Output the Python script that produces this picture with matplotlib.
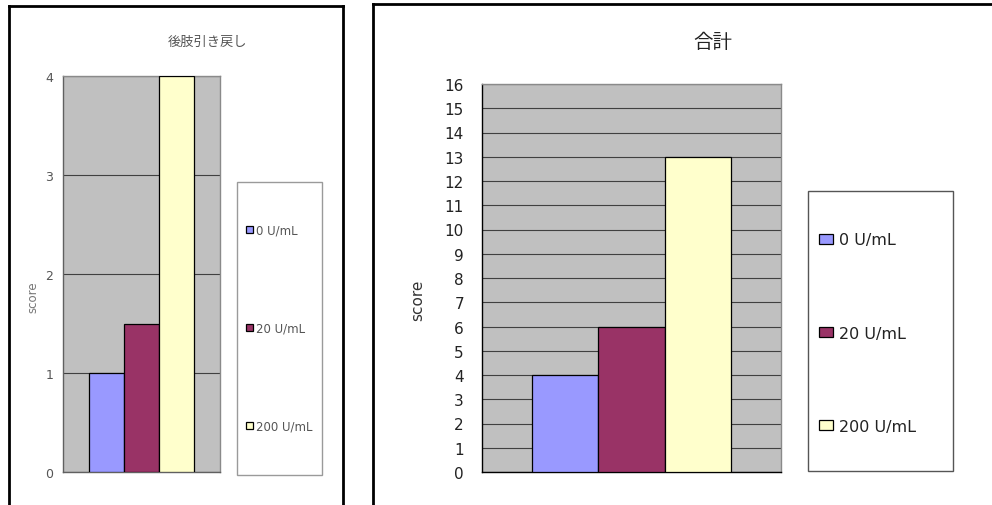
import matplotlib.pyplot as plt
from matplotlib.patches import Rectangle
from matplotlib.lines import Line2D

plt.rcParams['font.family'] = ['DejaVu Sans', 'Noto Sans CJK JP']

# ---------------------------------------------------------------- datos
series = ["0 U/mL", "20 U/mL", "200 U/mL"]
colors = ["#9999FF", "#993366", "#FFFFCC"]

left_title = "後肢引き戻し"
left_scores = [1, 1.5, 4]
left_yticks = [0, 1, 2, 3, 4]

right_title = "合計"
right_scores = [4, 6, 13]
right_yticks = list(range(0, 17))

ylabel = "score"

# tamaño del lienzo en pixeles
W, H = 992, 506


def caja(x0, y0, x1, y1):
    # caja en pixeles (origen arriba-izquierda) -> coordenadas de figura
    return [x0 / W, 1 - y1 / H, (x1 - x0) / W, (y1 - y0) / H]


def fx(x):
    return x / W


def fy(y):
    return 1 - y / H


def panel(fig, rect, scores, yticks, tc, pad, fs, spine_c):
    ax = fig.add_axes(rect)
    ax.set_facecolor("#C0C0C0")
    offs = [-1, 0, 1]
    handles = []
    for o, v, c, s in zip(offs, scores, colors, series):
        b = ax.bar(o, v, width=1, color=c, edgecolor="black",
                   linewidth=0.9, label=s, zorder=3)
        handles.append(b)
    ax.set_xlim(-2.25, 2.25)
    ax.set_ylim(0, yticks[-1])
    ax.set_yticks(yticks)
    ax.set_xticks([])
    ax.yaxis.grid(True, color="#404040", linewidth=0.8)
    ax.set_axisbelow(True)
    ax.tick_params(axis="y", length=0, pad=pad, labelsize=fs, labelcolor=tc)
    for k in ["top", "right"]:
        ax.spines[k].set_color("#8a8a8a")
        ax.spines[k].set_linewidth(1.0)
    for k in ["left", "bottom"]:
        ax.spines[k].set_color(spine_c)
        ax.spines[k].set_linewidth(1.0)
    return ax, handles


fig = plt.figure(figsize=(W / 100, H / 100), dpi=100)

# ---------------------------------------------------------------- marcos
fig.add_artist(Line2D([fx(9), fx(9)], [fy(7), fy(510)], color="black", lw=2))
fig.add_artist(Line2D([fx(9), fx(343)], [fy(7), fy(7)], color="black", lw=2))
fig.add_artist(Line2D([fx(343), fx(343)], [fy(7), fy(510)], color="black", lw=2))
fig.add_artist(Line2D([fx(373), fx(373)], [fy(5), fy(510)], color="black", lw=2))
fig.add_artist(Line2D([fx(373), fx(995)], [fy(5), fy(5)], color="black", lw=2))

# ---------------------------------------------------------------- izquierda
axL, hL = panel(fig, caja(63, 77, 220, 473), left_scores, left_yticks,
                "#555555", 7, 9, "#606060")
fig.text(fx(207), fy(42), left_title, ha="center", va="center",
         fontsize=9.5, color="#555555")
fig.text(fx(33), fy(297), ylabel, ha="center", va="center", rotation=90,
         fontsize=8.5, color="#777777")
fig.add_artist(Rectangle((fx(237), fy(476)), fx(322) - fx(237), fy(183) - fy(476),
                         transform=fig.transFigure, facecolor="white",
                         edgecolor="#9a9a9a", lw=1.0))
fig.legend(handles=hL, labels=series, loc="center left",
           bbox_to_anchor=(fx(246), fy(329)), frameon=False,
           fontsize=8.5, labelcolor="#555555", labelspacing=7.2,
           handlelength=0.6, handleheight=0.5, handletextpad=0.25,
           borderpad=0, borderaxespad=0)

# ---------------------------------------------------------------- derecha
axR, hR = panel(fig, caja(482, 85, 781, 473), right_scores, right_yticks,
                "#222222", 13, 11, "black")
fig.text(fx(713), fy(42), right_title, ha="center", va="center",
         fontsize=14, color="#222222")
fig.text(fx(418), fy(300), ylabel, ha="center", va="center", rotation=90,
         fontsize=11, color="#333333")
fig.add_artist(Rectangle((fx(808), fy(472)), fx(953) - fx(808), fy(192) - fy(472),
                         transform=fig.transFigure, facecolor="white",
                         edgecolor="#555555", lw=1.0))
fig.legend(handles=hR, labels=series, loc="center left",
           bbox_to_anchor=(fx(819), fy(334)), frameon=False,
           fontsize=11.5, labelcolor="#222222", labelspacing=4.9,
           handlelength=0.85, handleheight=0.6, handletextpad=0.4,
           borderpad=0, borderaxespad=0)

fig.savefig("out.png", dpi=100)
